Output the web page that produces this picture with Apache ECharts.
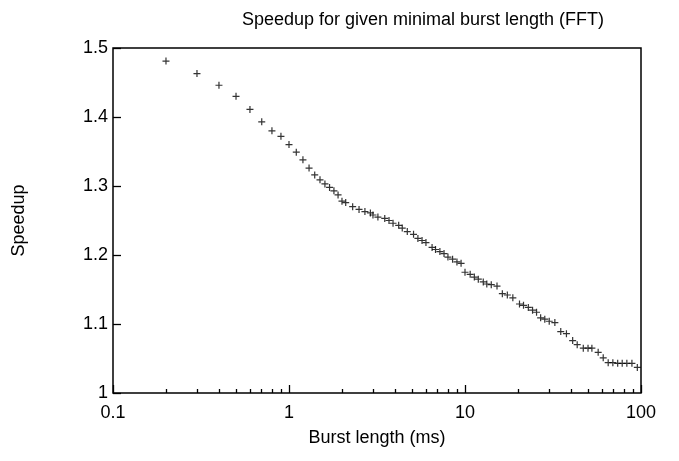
<!DOCTYPE html>
<html>
<head>
<meta charset="utf-8">
<title>Speedup for given minimal burst length (FFT)</title>
<script src="https://cdn.jsdelivr.net/npm/echarts@6/dist/echarts.min.js"></script>
<style>
  html, body { margin: 0; padding: 0; background: #fff; }
  #chart { width: 679px; height: 461px; }
</style>
</head>
<body>
<div id="chart"></div>
<script>
var burstLength = [
  0.2, 0.3, 0.4, 0.5, 0.6, 0.7, 0.8, 0.9, 1.0, 1.1,
  1.2, 1.3, 1.4, 1.5, 1.6, 1.7, 1.8, 1.9, 2.0, 2.1,
  2.3, 2.5, 2.7, 2.9, 3.0, 3.2, 3.5, 3.7, 3.9, 4.2,
  4.4, 4.7, 5.1, 5.4, 5.7, 6.0, 6.5, 6.8, 7.2, 7.6,
  8.0, 8.5, 9.0, 9.5, 10, 10.7, 11.3, 11.9, 12.7, 13.3,
  14.1, 15.2, 16.3, 17.4, 18.7, 20.4, 21.5, 22.9, 24.2, 25.5,
  26.9, 28.4, 30.1, 32.4, 35, 37.7, 40.9, 43.4, 47, 50,
  52.6, 57.1, 61, 65.1, 69.2, 73.7, 78.2, 83.1, 88.8, 95.3
];
var speedup = [
  1.481, 1.463, 1.446, 1.430, 1.411, 1.393, 1.380, 1.372, 1.360, 1.349,
  1.338, 1.326, 1.316, 1.309, 1.303, 1.298, 1.293, 1.287, 1.278, 1.276,
  1.270, 1.266, 1.263, 1.261, 1.258, 1.255, 1.253, 1.250, 1.246, 1.243,
  1.239, 1.234, 1.230, 1.224, 1.221, 1.218, 1.211, 1.208, 1.205, 1.202,
  1.197, 1.194, 1.190, 1.188, 1.175, 1.172, 1.168, 1.165, 1.161, 1.158,
  1.157, 1.155, 1.144, 1.142, 1.138, 1.129, 1.127, 1.124, 1.120, 1.117,
  1.109, 1.107, 1.104, 1.102, 1.089, 1.086, 1.076, 1.070, 1.065, 1.065,
  1.065, 1.059, 1.051, 1.044, 1.044, 1.043, 1.043, 1.043, 1.043, 1.037
];

// axis ticks
var xMinorTicks = [0.2, 0.3, 0.4, 0.5, 0.6, 0.7, 0.8, 0.9,
                   2, 3, 4, 5, 6, 7, 8, 9,
                   20, 30, 40, 50, 60, 70, 80, 90];

var font = 'Liberation Sans, Arial, sans-serif';
var points = burstLength.map(function (x, i) { return [x, speedup[i]]; });

var chart = echarts.init(document.getElementById('chart'), null, { renderer: 'canvas' });

chart.setOption({
  animation: false,
  backgroundColor: '#fff',
  title: {
    text: 'Speedup for given minimal burst length (FFT)',
    left: 418, top: 6, textAlign: 'center',
    textStyle: { fontFamily: font, fontSize: 18, fontWeight: 'normal', color: '#000' }
  },
  grid: { left: 113, right: 38, top: 48, bottom: 68, show: true,
    borderColor: '#000', borderWidth: 1.5, backgroundColor: 'transparent' },
  xAxis: [{
    type: 'log', logBase: 10, min: 0.1, max: 100,
    name: 'Burst length (ms)', nameLocation: 'middle', nameGap: 36,
    nameTextStyle: { fontFamily: font, fontSize: 18, color: '#000' },
    axisLine: { show: false },
    axisTick: { inside: true, length: 8, lineStyle: { color: '#000', width: 1.3 } },
    axisLabel: { margin: 11, fontFamily: font, fontSize: 18, color: '#000',
      formatter: function (v) { return String(v); } },
    splitLine: { show: false }
  }, {
    type: 'log', logBase: 10, min: 0.1, max: 100, position: 'bottom',
    axisLine: { show: false },
    axisTick: { inside: true, length: 4, customValues: xMinorTicks,
      lineStyle: { color: '#000', width: 1.3 } },
    axisLabel: { show: false },
    splitLine: { show: false }
  }],
  yAxis: {
    type: 'value', min: 1, max: 1.5, interval: 0.1,
    name: 'Speedup', nameLocation: 'middle', nameGap: 85,
    nameTextStyle: { fontFamily: font, fontSize: 18, color: '#000' },
    axisLine: { show: false },
    axisTick: { inside: true, length: 8, lineStyle: { color: '#000', width: 1.3 } },
    axisLabel: { margin: 5, fontFamily: font, fontSize: 18, color: '#000',
      formatter: function (v) { return String(+v.toFixed(1)); } },
    splitLine: { show: false }
  },
  series: [{
    type: 'scatter',
    data: points,
    symbol: 'path://M0,2.9H7V4.1H0Z M2.9,0H4.1V7H2.9Z',
    symbolSize: 7,
    itemStyle: { color: '#000' }
  }]
});
</script>
</body>
</html>
